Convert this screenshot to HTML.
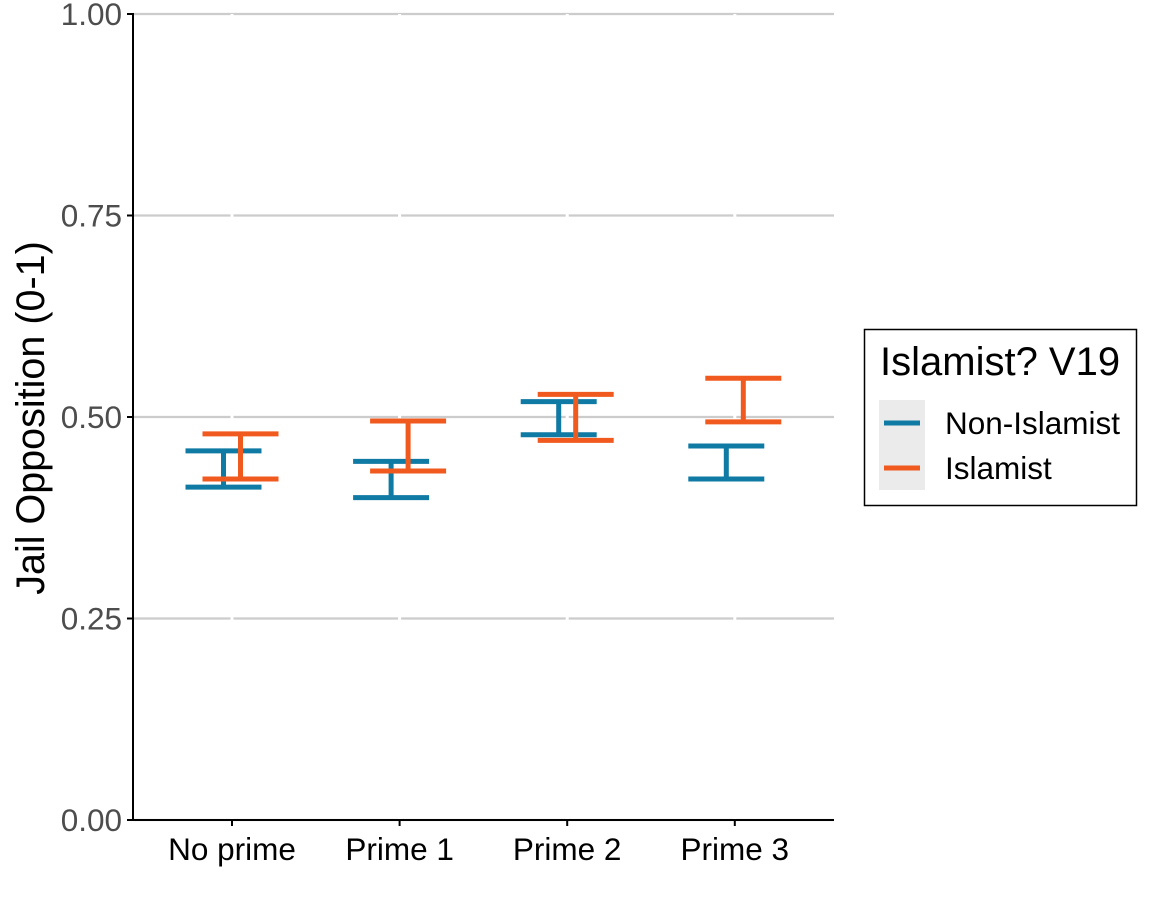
<!DOCTYPE html>
<html><head><meta charset="utf-8"><style>
body{margin:0;background:#fff;}
svg{display:block;font-family:"Liberation Sans",sans-serif;}
</style></head><body>
<svg id="chart" width="1152" height="921">
<g id="grid"></g>
<g id="marks"></g>
<g id="axes"></g>
<text transform="translate(44,418) rotate(-90)" text-anchor="middle" font-size="39.5" fill="#000">Jail Opposition (0-1)</text>
<g>
<rect x="864.5" y="329.5" width="272" height="176" fill="#fff" stroke="#000" stroke-width="1.5"/>
<text x="880" y="375" font-size="40">Islamist? V19</text>
<rect x="879" y="400" width="46" height="90" fill="#ebebeb"/>
<g><line x1="884" x2="920" y1="423" y2="423" stroke="#0f7aa3" stroke-width="5"/><text x="945" y="434" font-size="31.5">Non-Islamist</text></g>
<g><line x1="884" x2="920" y1="468" y2="468" stroke="#f05a1f" stroke-width="5"/><text x="945" y="479" font-size="31.5">Islamist</text></g>
</g>
</svg>
<script>
const categories=["No prime","Prime 1","Prime 2","Prime 3"];
const nonLow=[0.413,0.400,0.478,0.423];
const nonHigh=[0.458,0.445,0.519,0.464];
const islLow=[0.423,0.433,0.471,0.494];
const islHigh=[0.479,0.495,0.528,0.548];
const yTicks=[0,0.25,0.5,0.75,1];
const yTickLabels=["0.00","0.25","0.50","0.75","1.00"];
const NS="http://www.w3.org/2000/svg";
const X0=133,X1=834,Y0=820,Y1=14;
const y=v=>Y0-(Y0-Y1)*v;
const x=i=>232+i*167.6;
function mk(p,t,a){const e=document.createElementNS(NS,t);for(const k in a)e.setAttribute(k,a[k]);p.appendChild(e);return e;}
const grid=document.getElementById('grid'),marks=document.getElementById('marks'),axes=document.getElementById('axes');
yTicks.forEach((v,i)=>{
 const l=mk(grid,'line',{x1:X0,x2:X1,y1:y(v),y2:y(v),stroke:'#cccccc','stroke-width':2.2});
 
 
 mk(axes,'line',{x1:X0-6,x2:X0,y1:y(v),y2:y(v),stroke:'#000','stroke-width':2});
 const t=mk(axes,'text',{x:X0-11,y:y(v)+11,'text-anchor':'end','font-size':31.5,fill:'#4d4d4d'});
 t.textContent=yTickLabels[i];
 
 
});
categories.forEach((c,i)=>{
 mk(grid,'line',{x1:x(i),x2:x(i),y1:Y1,y2:Y0,stroke:'#fff','stroke-width':3});
 mk(axes,'line',{x1:x(i),x2:x(i),y1:Y0,y2:Y0+6,stroke:'#000','stroke-width':2});
 const t=mk(axes,'text',{x:x(i),y:Y0+40,'text-anchor':'middle','font-size':31.5,fill:'#000'});
 t.textContent=c;
 
 
});
mk(axes,'line',{x1:X0,x2:X0,y1:Y1-1,y2:Y0+1,stroke:'#000','stroke-width':2});
mk(axes,'line',{x1:X0-1,x2:X1,y1:Y0,y2:Y0,stroke:'#000','stroke-width':2});
function bar(i,lo,hi,off,col,name){
 const g=mk(marks,'g',{stroke:col,'stroke-width':5,fill:'none'});
 
 
 const cx=x(i)+off,w=38;
 mk(g,'line',{x1:cx,x2:cx,y1:y(lo),y2:y(hi)});
 mk(g,'line',{x1:cx-w,x2:cx+w,y1:y(lo),y2:y(lo)});
 mk(g,'line',{x1:cx-w,x2:cx+w,y1:y(hi),y2:y(hi)});
}
categories.forEach((c,i)=>{
 bar(i,nonLow[i],nonHigh[i],-8.5,'#0f7aa3','errorbar-non-islamist-'+i);
 bar(i,islLow[i],islHigh[i],8.5,'#f05a1f','errorbar-islamist-'+i);
});
</script>
</body></html>
